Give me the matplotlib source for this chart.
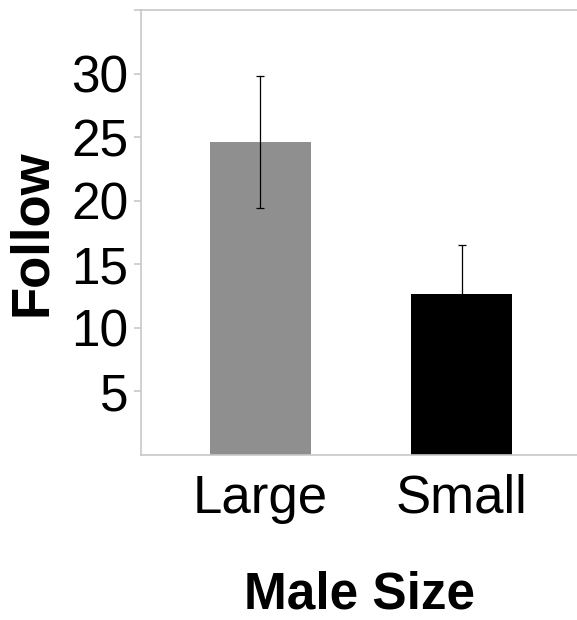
import matplotlib
matplotlib.use("Agg")
import matplotlib.pyplot as plt

# values
sizes = ["Large", "Small"]
follow_mean = [24.6, 12.7]
follow_err = [5.2, 3.8]
bar_colors = ["#8f8f8f", "#000000"]
y_ticks = [5, 10, 15, 20, 25, 30, 35]
y_tick_labels = ["5", "10", "15", "20", "25", "30", ""]

plt.rcParams['font.family'] = ['Liberation Sans', 'DejaVu Sans']

fig = plt.figure(figsize=(5.77, 6.20), dpi=100)
ax = fig.add_axes([0.2444, 0.2661, 0.7556, 0.7178])

xpos = list(range(len(sizes)))
ax.bar(xpos, follow_mean, width=0.5, color=bar_colors, zorder=2)
ax.errorbar(xpos, follow_mean, yerr=follow_err, fmt='none', ecolor='black',
            elinewidth=0.9, capsize=3.2, capthick=0.9, zorder=3)

ax.set_xlim(-0.59, 1.57)
ax.set_ylim(0, 35)
ax.set_xticks(xpos)
ax.set_xticklabels(sizes, fontsize=38)
ax.set_yticks(y_ticks)
ax.set_yticklabels(y_tick_labels, fontsize=37)

spine_col = "#c8c8c8"
for side in ['left', 'bottom', 'top']:
    ax.spines[side].set_color(spine_col)
    ax.spines[side].set_linewidth(1.2)
ax.spines['right'].set_visible(False)
ax.tick_params(axis='y', color=spine_col, length=5, width=1.2, pad=4)
ax.tick_params(axis='x', length=0, pad=13.5)

ax.set_ylabel("Follow", fontsize=38, fontweight='bold', labelpad=10)
ax.set_xlabel("Male Size", fontsize=37, fontweight='bold', labelpad=34)

fig.savefig("out.png", dpi=100)
